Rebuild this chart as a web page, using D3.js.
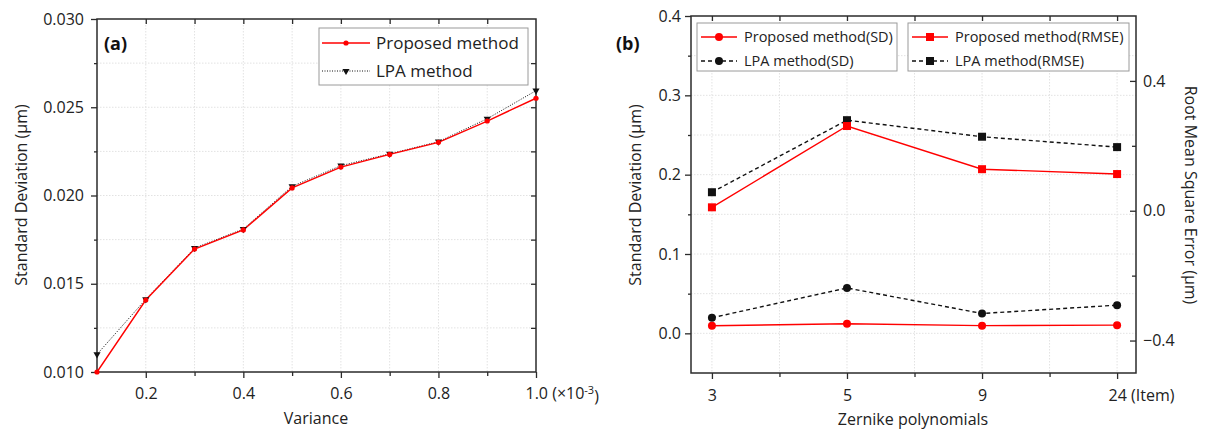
<!DOCTYPE html>
<html>
<head>
<meta charset="utf-8">
<script src="https://cdn.jsdelivr.net/npm/d3@7"></script>
<style>
	body { margin: 0; background: #fff; }
	svg { display: block; font-family: "Open Sans", sans-serif; }
</style>
</head>
<body>
<script>
// ---- panel (a) data ----
const variance = [0.1, 0.2, 0.3, 0.4, 0.5, 0.6, 0.7, 0.8, 0.9, 1.0];
const proposedA = [0.0100, 0.01408, 0.01697, 0.01805, 0.02043, 0.02161, 0.02233, 0.02301, 0.02422, 0.02551];
const lpaA = [0.0110, 0.01412, 0.01702, 0.01810, 0.02052, 0.02169, 0.02236, 0.02305, 0.02435, 0.02594];
const yTicksA = [0.010, 0.015, 0.020, 0.025, 0.030];
const yMinorA = [0.0125, 0.0175, 0.0225, 0.0275];
const xTicksA = [0.2, 0.4, 0.6, 0.8, 1.0];
const xMinorA = [0.3, 0.5, 0.7, 0.9];

// ---- panel (b) data ----
const zernike = ["3", "5", "9", "24"];
const proposedSD = [0.0096, 0.0120, 0.0097, 0.0103];
const lpaSD = [0.0197, 0.0572, 0.0250, 0.0355];
const proposedRMSE = [0.0105, 0.261, 0.128, 0.113];
const lpaRMSE = [0.057, 0.279, 0.228, 0.196];
const yTicksB = [0.0, 0.1, 0.2, 0.3, 0.4];
const yMinorB = [0.05, 0.15, 0.25, 0.35];
const rTicksB = [-0.4, 0.0, 0.4];
const rMinorB = [-0.2, 0.2];

const RED = "#ff0000";
const AXIS = "#2b2b2b";
const GRID = "#e2e2e2";
const TICK_FONT = 16;

const svg = d3.create("svg")
	.attr("width", 1205)
	.attr("height", 434)
	.attr("viewBox", [0, 0, 1205, 434]);
document.body.appendChild(svg.node());

// common axis styling
function styleAxis(g) {
	g.select(".domain").remove();
	g.selectAll(".tick line").attr("stroke", AXIS).attr("stroke-width", 1.3);
	g.selectAll(".tick text")
		.attr("fill", "#222")
		.attr("font-family", "Open Sans, sans-serif")
		.attr("font-size", TICK_FONT);
}

// ================= panel (a) =================
{
	const xa = d3.scaleLinear().domain([0.1, 1.0]).range([97, 536]);
	const ya = d3.scaleLinear().domain([0.010, 0.030]).range([372, 19]);

	const grid = svg.append("g");
	grid.selectAll("line.gx").data(variance.slice(1, -1)).join("line")
		.attr("x1", xa).attr("x2", xa).attr("y1", 19).attr("y2", 372)
		.attr("stroke", GRID).attr("stroke-dasharray", "1.5,1.5");
	grid.selectAll("line.gy").data(yMinorA.concat(yTicksA.slice(1, -1))).join("line")
		.attr("y1", ya).attr("y2", ya).attr("x1", 97).attr("x2", 536)
		.attr("stroke", GRID).attr("stroke-dasharray", "1.5,1.5");

	// axes
	svg.append("g").attr("transform", "translate(97,0)")
		.call(d3.axisLeft(ya).tickValues(yTicksA).tickFormat(d3.format(".3f")).tickSize(6).tickPadding(7))
		.call(styleAxis);
	svg.append("g").attr("transform", "translate(97,0)")
		.call(d3.axisLeft(ya).tickValues(yMinorA).tickFormat("").tickSize(3))
		.call(styleAxis);
	svg.append("g").attr("transform", "translate(0,372)")
		.call(d3.axisBottom(xa).tickValues(xTicksA).tickFormat(d3.format(".1f")).tickSize(6).tickPadding(10))
		.call(styleAxis)
		.call((g) => {
			const t = g.selectAll(".tick text").filter((d) => d === 1.0);
			t.text(null).attr("text-anchor", "start").attr("x", -11);
			t.append("tspan").text("1.0 (×10");
			t.append("tspan").attr("dy", "-0.45em").attr("font-size", 11).text("-3");
			t.append("tspan").attr("dy", "0.45em").text(")");
		});
	svg.append("g").attr("transform", "translate(0,372)")
		.call(d3.axisBottom(xa).tickValues(xMinorA).tickFormat("").tickSize(4))
		.call(styleAxis);
	svg.append("g").attr("transform", "translate(0,19)")
		.call(d3.axisTop(xa).tickValues(variance.slice(1, -1)).tickFormat("").tickSize(-5))
		.call(styleAxis);
	svg.append("g").attr("transform", "translate(536,0)")
		.call(d3.axisRight(ya).tickValues(yMinorA.concat(yTicksA.slice(1, -1))).tickFormat("").tickSize(-5))
		.call(styleAxis);

	svg.append("rect").attr("x", 97).attr("y", 19).attr("width", 439).attr("height", 353)
		.attr("fill", "none").attr("stroke", AXIS).attr("stroke-width", 1.5);

	// lines
	const line = d3.line().x((d, i) => xa(variance[i])).y((d) => ya(d));
	svg.append("path").datum(lpaA).attr("d", line)
		.attr("fill", "none").attr("stroke", "#111").attr("stroke-width", 1)
		.attr("stroke-dasharray", "1,1.5");
	svg.append("path").datum(proposedA).attr("d", line)
		.attr("fill", "none").attr("stroke", RED).attr("stroke-width", 1.4);

	const tri = d3.symbol(d3.symbolTriangle, 22);
	svg.append("g").selectAll("path").data(lpaA).join("path")
		.attr("d", tri)
		.attr("transform", (d, i) => `translate(${xa(variance[i])},${ya(d)}) rotate(180)`)
		.attr("fill", "#111");
	svg.append("g").selectAll("circle").data(proposedA).join("circle")
		.attr("cx", (d, i) => xa(variance[i])).attr("cy", (d) => ya(d)).attr("r", 2.6)
		.attr("fill", RED);

	// legend
	const lg = svg.append("g");
	lg.append("rect").attr("x", 319).attr("y", 28).attr("width", 209).attr("height", 57)
		.attr("fill", "#fff").attr("stroke", "#9a9a9a").attr("stroke-width", 1);
	lg.append("line").attr("x1", 322).attr("x2", 370).attr("y1", 43).attr("y2", 43)
		.attr("stroke", RED).attr("stroke-width", 1.4);
	lg.append("circle").attr("cx", 346).attr("cy", 43).attr("r", 2.6).attr("fill", RED);
	lg.append("line").attr("x1", 322).attr("x2", 370).attr("y1", 71).attr("y2", 71)
		.attr("stroke", "#111").attr("stroke-dasharray", "1,1.5");
	lg.append("path").attr("d", tri).attr("transform", "translate(346,71) rotate(180)").attr("fill", "#111");
	lg.append("text").attr("x", 376).attr("y", 49).attr("font-size", 17).attr("fill", "#222").text("Proposed method");
	lg.append("text").attr("x", 376).attr("y", 77).attr("font-size", 17).attr("fill", "#222").text("LPA method");

	// titles
	svg.append("text").attr("x", 104).attr("y", 50).attr("font-size", 18).attr("font-weight", "bold")
		.attr("fill", "#111").text("(a)");
	svg.append("text").attr("transform", "translate(27,195) rotate(-90)").attr("text-anchor", "middle")
		.attr("font-size", 16).attr("fill", "#222").text("Standard Deviation (μm)");
	svg.append("text").attr("x", 316).attr("y", 424).attr("text-anchor", "middle")
		.attr("font-size", 16).attr("fill", "#222").text("Variance");
}

// ================= panel (b) =================
{
	const xb = d3.scaleLinear().domain([-0.155, 3.14]).range([691, 1136]);
	const yb = d3.scaleLinear().domain([-0.05, 0.4]).range([373, 16]);
	const yr = d3.scaleLinear().domain([-0.5, 0.6]).range([373, 16]);
	const idx = zernike.map((d, i) => i);
	const idxMinor = [0.5, 1.5, 2.5];

	const grid = svg.append("g");
	grid.selectAll("line.gx").data(idx.concat(idxMinor)).join("line")
		.attr("x1", xb).attr("x2", xb).attr("y1", 16).attr("y2", 373)
		.attr("stroke", GRID).attr("stroke-dasharray", "1.5,1.5");
	grid.selectAll("line.gy").data(yTicksB.slice(0, -1).concat(yMinorB)).join("line")
		.attr("y1", yb).attr("y2", yb).attr("x1", 691).attr("x2", 1136)
		.attr("stroke", GRID).attr("stroke-dasharray", "1.5,1.5");

	// axes
	svg.append("g").attr("transform", "translate(691,0)")
		.call(d3.axisLeft(yb).tickValues(yTicksB).tickFormat(d3.format(".1f")).tickSize(6).tickPadding(4))
		.call(styleAxis);
	svg.append("g").attr("transform", "translate(691,0)")
		.call(d3.axisLeft(yb).tickValues(yMinorB).tickFormat("").tickSize(3))
		.call(styleAxis);
	svg.append("g").attr("transform", "translate(0,373)")
		.call(d3.axisBottom(xb).tickValues(idx).tickFormat((i) => zernike[i]).tickSize(6).tickPadding(11))
		.call(styleAxis)
		.call((g) => {
			const t = g.selectAll(".tick text").filter((d) => d === 3);
			t.attr("text-anchor", "start").attr("x", -9).text("24 (Item)");
		});
	svg.append("g").attr("transform", "translate(0,373)")
		.call(d3.axisBottom(xb).tickValues(idxMinor).tickFormat("").tickSize(4))
		.call(styleAxis);
	svg.append("g").attr("transform", "translate(0,16)")
		.call(d3.axisTop(xb).tickValues(idx.concat(idxMinor)).tickFormat("").tickSize(-5))
		.call(styleAxis);
	svg.append("g").attr("transform", "translate(1136,0)")
		.call(d3.axisRight(yr).tickValues(rTicksB).tickFormat(d3.format(".1f")).tickSize(-6).tickPadding(7))
		.call(styleAxis);
	svg.append("g").attr("transform", "translate(1136,0)")
		.call(d3.axisRight(yr).tickValues(rMinorB).tickFormat("").tickSize(-4))
		.call(styleAxis);

	svg.append("rect").attr("x", 691).attr("y", 16).attr("width", 445).attr("height", 357)
		.attr("fill", "none").attr("stroke", AXIS).attr("stroke-width", 1.5);

	// series
	const lineL = d3.line().x((d, i) => xb(i)).y((d) => yb(d));
	const lineR = d3.line().x((d, i) => xb(i)).y((d) => yr(d));
	const series = [
		{ values: lpaRMSE, line: lineR, y: yr, color: "#111", dash: "4,3", shape: "square" },
		{ values: proposedRMSE, line: lineR, y: yr, color: RED, dash: null, shape: "square" },
		{ values: lpaSD, line: lineL, y: yb, color: "#111", dash: "4,3", shape: "circle" },
		{ values: proposedSD, line: lineL, y: yb, color: RED, dash: null, shape: "circle" },
	];
	for (const s of series) {
		svg.append("path").datum(s.values).attr("d", s.line)
			.attr("fill", "none").attr("stroke", s.color).attr("stroke-width", 1.4)
			.attr("stroke-dasharray", s.dash);
		const g = svg.append("g").attr("fill", s.color);
		if (s.shape === "circle") {
			g.selectAll("circle").data(s.values).join("circle")
				.attr("cx", (d, i) => xb(i)).attr("cy", (d) => s.y(d)).attr("r", 4);
		} else {
			g.selectAll("rect").data(s.values).join("rect")
				.attr("x", (d, i) => xb(i) - 4).attr("y", (d) => s.y(d) - 4)
				.attr("width", 8).attr("height", 8);
		}
	}

	// legends
	function legendBox(x, w, items) {
		const lg = svg.append("g");
		lg.append("rect").attr("x", x).attr("y", 23).attr("width", w).attr("height", 48)
			.attr("fill", "#fff").attr("stroke", "#9a9a9a").attr("stroke-width", 1);
		items.forEach((it, i) => {
			const cy = 37 + i * 24;
			lg.append("line").attr("x1", x + 4).attr("x2", x + 40).attr("y1", cy).attr("y2", cy)
				.attr("stroke", it.color).attr("stroke-width", 1.4).attr("stroke-dasharray", it.dash);
			if (it.shape === "circle") {
				lg.append("circle").attr("cx", x + 22).attr("cy", cy).attr("r", 4).attr("fill", it.color);
			} else {
				lg.append("rect").attr("x", x + 18).attr("y", cy - 4).attr("width", 8).attr("height", 8)
					.attr("fill", it.color);
			}
			lg.append("text").attr("x", x + 47).attr("y", cy + 5).attr("font-size", 14.5)
				.attr("fill", "#222").text(it.label);
		});
	}
	legendBox(697, 200, [
		{ label: "Proposed method(SD)", color: RED, dash: null, shape: "circle" },
		{ label: "LPA method(SD)", color: "#111", dash: "4,3", shape: "circle" },
	]);
	legendBox(908, 221, [
		{ label: "Proposed method(RMSE)", color: RED, dash: null, shape: "square" },
		{ label: "LPA method(RMSE)", color: "#111", dash: "4,3", shape: "square" },
	]);

	// titles
	svg.append("text").attr("x", 616).attr("y", 50).attr("font-size", 18).attr("font-weight", "bold")
		.attr("fill", "#111").text("(b)");
	svg.append("text").attr("transform", "translate(641,195) rotate(-90)").attr("text-anchor", "middle")
		.attr("font-size", 16).attr("fill", "#222").text("Standard Deviation (μm)");
	svg.append("text").attr("transform", "translate(1185,195) rotate(90)").attr("text-anchor", "middle")
		.attr("font-size", 16).attr("fill", "#222").text("Root Mean Square Error (μm)");
	svg.append("text").attr("x", 913).attr("y", 425).attr("text-anchor", "middle")
		.attr("font-size", 16).attr("fill", "#222").text("Zernike polynomials");
}
</script>
</body>
</html>
